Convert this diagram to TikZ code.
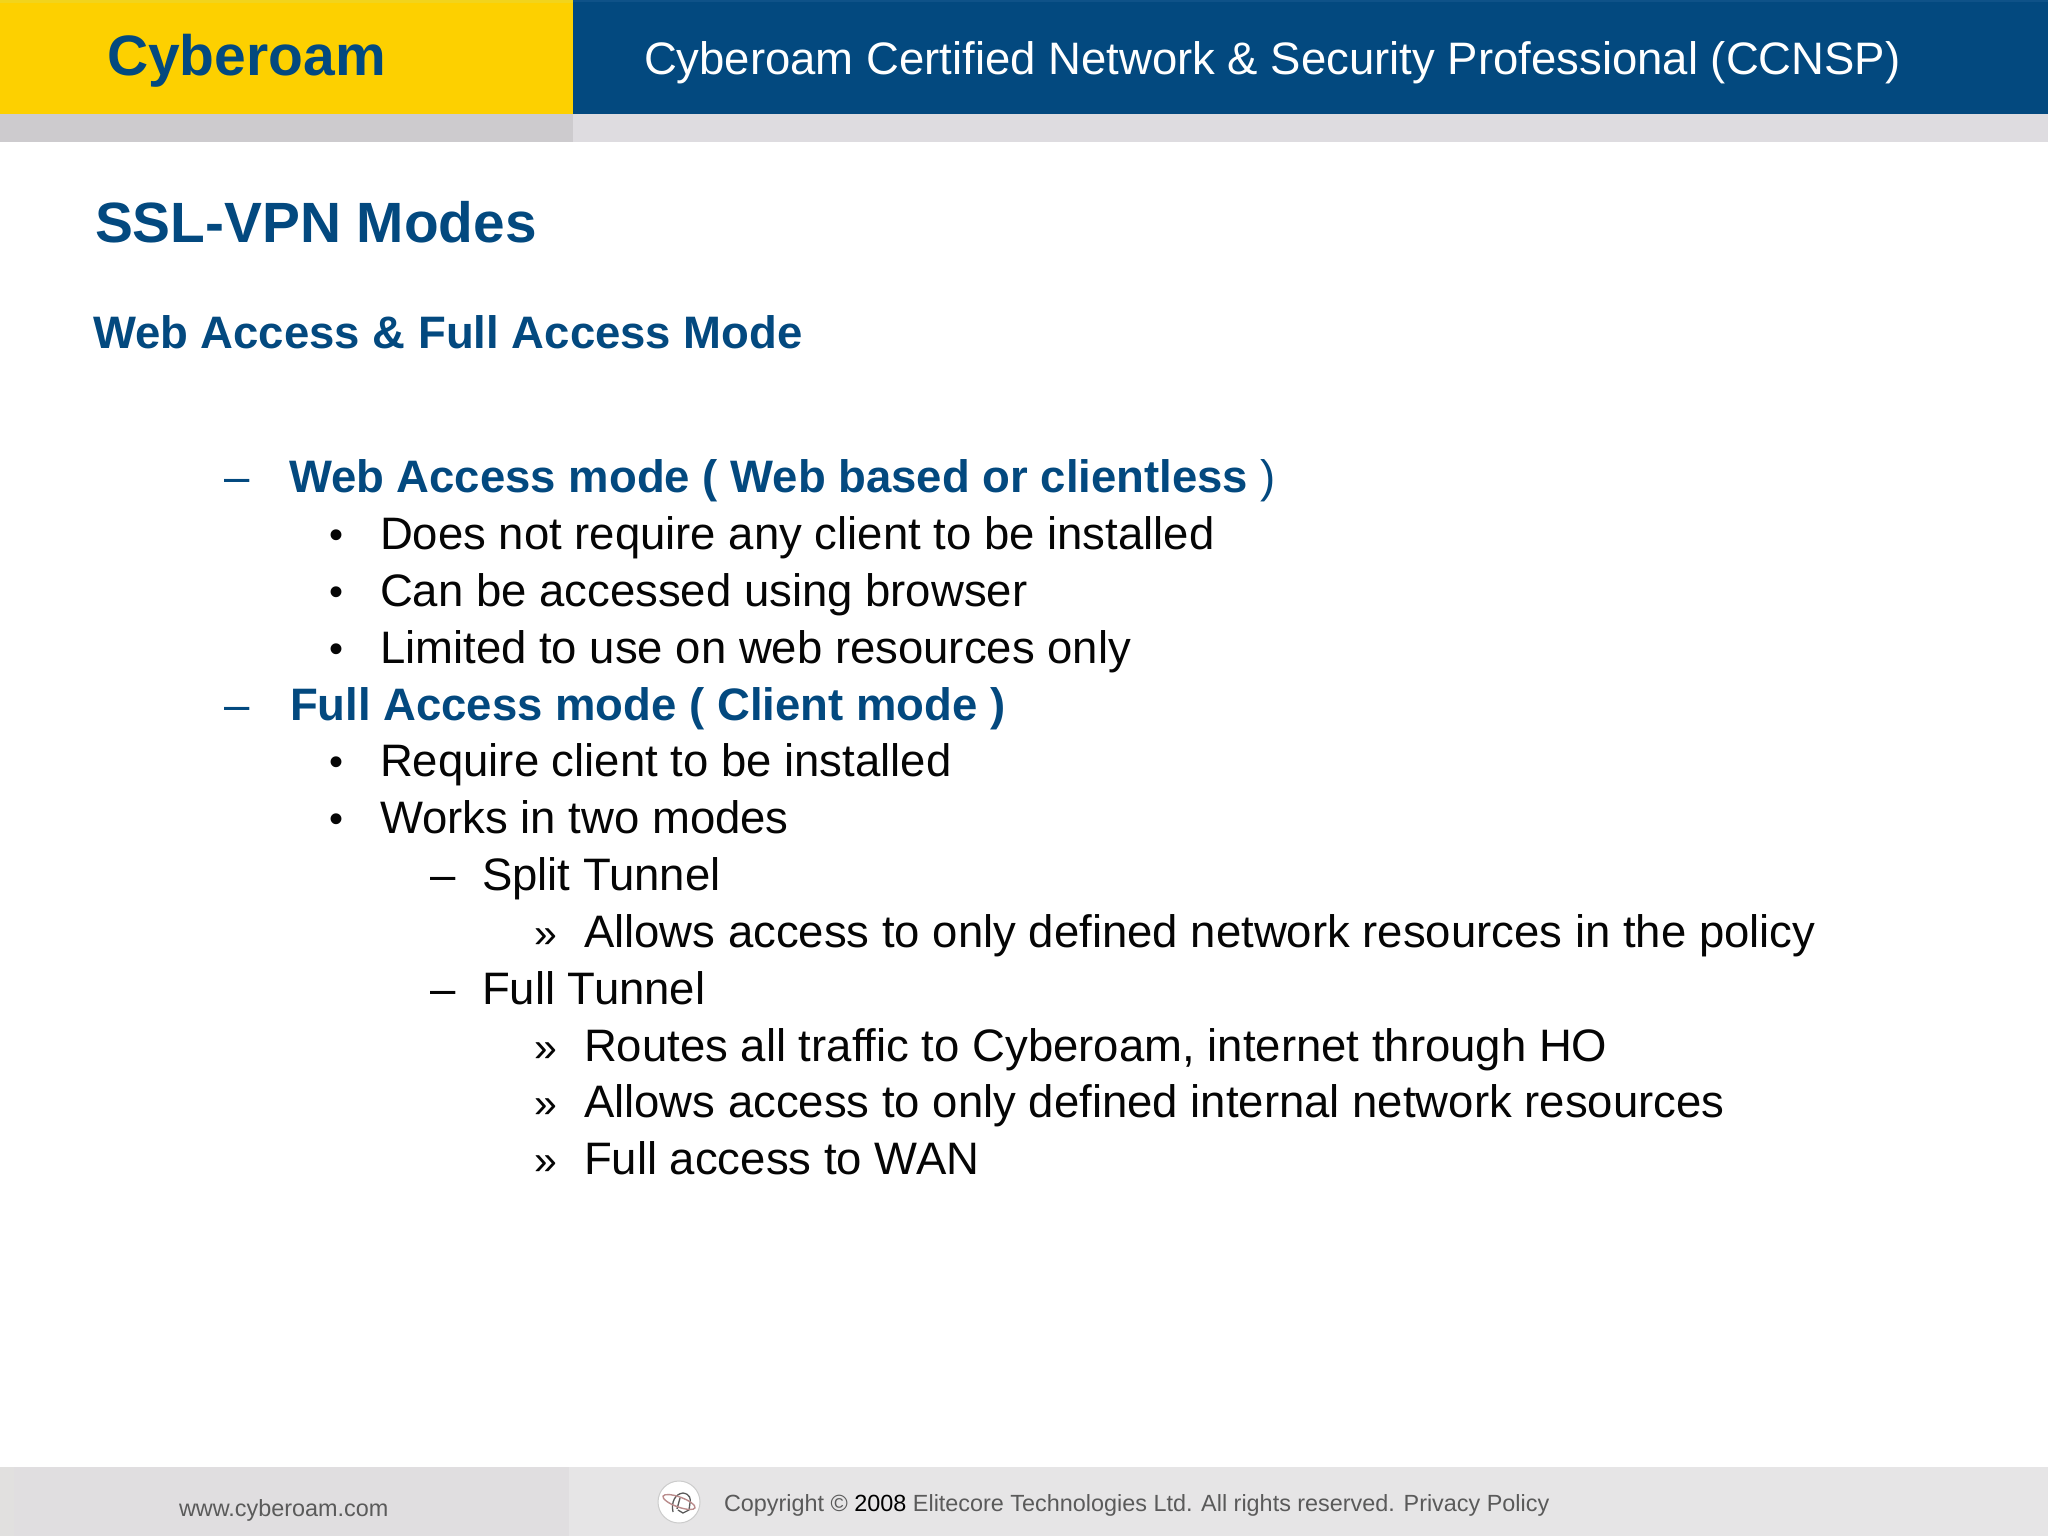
\documentclass[tikz,border=0pt]{standalone}
\usepackage{fontspec}
\setmainfont{Liberation Sans}
\definecolor{cyblue}{HTML}{03497F}
\definecolor{cyyellow}{HTML}{FDD000}
\definecolor{cyyellowtop}{HTML}{F2D41C}
\definecolor{cybluetop}{HTML}{0F5288}
\definecolor{barleft}{HTML}{CDCBCE}
\definecolor{barright}{HTML}{DEDCE0}
\definecolor{footedge}{HTML}{E1E0DF}
\definecolor{footleft}{HTML}{E0DEE0}
\definecolor{footright}{HTML}{E6E5E6}
\definecolor{bodytext}{HTML}{050505}
\definecolor{foottext}{HTML}{5A5A5A}
\newcommand{\fs}[1]{\fontsize{#1}{#1}\selectfont}
\tikzset{
  txt/.style={inner sep=0pt,outer sep=0pt,anchor=base west},
  body/.style={txt,text=bodytext,font=\fs{45.5}},
  bul/.style={txt,text=bodytext,font=\fs{40}},
  gtm/.style={txt,text=bodytext,font=\fs{41}},
  head/.style={txt,text=cyblue,font=\fs{45.5}\bfseries},
  dashm/.style={txt,text=cyblue,font=\fs{45.5}},
  foot/.style={txt,text=foottext,font=\fs{23.4}},
}
\begin{document}
\begin{tikzpicture}[x=1pt,y=-1pt]
\useasboundingbox (0,0) rectangle (2048,1536);
\fill[white] (0,0) rectangle (2048,1536);
\fill[cyyellow] (0,0) rectangle (573,114);
\fill[cyyellowtop] (0,0) rectangle (573,3);
\fill[cyblue] (573,0) rectangle (2048,114);
\fill[cybluetop] (573,0) rectangle (2048,2);
\fill[barleft] (0,114) rectangle (573,142);
\fill[barright] (573,114) rectangle (2048,142);
\fill[footleft] (0,1467) rectangle (569,1536);
\fill[footedge] (0,1467) rectangle (14,1536);
\fill[footright] (569,1467) rectangle (2048,1536);
\node[txt,text=cyblue,font=\fs{57}\bfseries] (brand) at (107,75.5) {Cyberoam};
\node[txt,text=white,font=\fs{45.5}] (course) at (644,75) {Cyberoam Certified Network \& Security Professional (CCNSP)};
\node[txt,text=cyblue,font=\fs{56.8}\bfseries] (title) at (95,242) {SSL-VPN Modes};
\node[txt,text=cyblue,font=\fs{45.5}\bfseries] (sub) at (93,348) {Web Access \& Full Access Mode};
\node[dashm] (d1) at (224,492) {–};
\node[head] (h1) at (289,492) {Web Access mode ( Web based or clientless {\mdseries )}};
\node[bul] (b1) at (329,548) {•};
\node[body] (t1) at (380,549) {Does not require any client to be installed};
\node[bul] (b2) at (329,605) {•};
\node[body] (t2) at (380,606) {Can be accessed using browser};
\node[bul] (b3) at (329,662) {•};
\node[body] (t3) at (380,663) {Limited to use on web resources only};
\node[dashm] (d2) at (224,720) {–};
\node[head] (h2) at (290,720) {Full Access mode ( Client mode )};
\node[bul] (b4) at (329,775) {•};
\node[body] (t4) at (380,776) {Require client to be installed};
\node[bul] (b5) at (329,832) {•};
\node[body] (t5) at (380,833) {Works in two modes};
\node[body] (d3) at (430,890) {–};
\node[body] (t6) at (482,890) {Split Tunnel};
\node[gtm] (g1) at (534,947) {»};
\node[body] (t7) at (584,947) {Allows access to only defined network resources in the policy};
\node[body] (d4) at (430,1004) {–};
\node[body] (t8) at (482,1004) {Full Tunnel};
\node[gtm] (g2) at (534,1061) {»};
\node[body] (t9) at (584,1061) {Routes all traffic to Cyberoam, internet through HO};
\node[gtm] (g3) at (534,1117.5) {»};
\node[body] (t10) at (584,1117.5) {Allows access to only defined internal network resources};
\node[gtm] (g4) at (534,1174.5) {»};
\node[body] (t11) at (584,1174.5) {Full access to WAN};
\node[foot] (web) at (179,1516) {www.cyberoam.com};
\node[foot] (copy) at (724,1511) {Copyright © {\color{black}2008} Elitecore Technologies Ltd. All rights reserved. Privacy Policy};
\fill[white,draw=black!20,line width=1pt] (679,1502) circle (21);
\draw[black!65,line width=1.3pt] (673,1512) .. controls (671,1502) and (675,1494) .. (683,1493) .. controls (690,1494) and (691,1499) .. (690,1503) -- (689,1510) -- (683,1513) -- (678,1510);
\draw[black!65,line width=1.3pt] (680,1498) -- (677,1509);
\draw[red!40!black!45,line width=1.4pt,rotate around={-20:(679,1502)}] (679,1502) ellipse (17 and 5);
\end{tikzpicture}
\end{document}
